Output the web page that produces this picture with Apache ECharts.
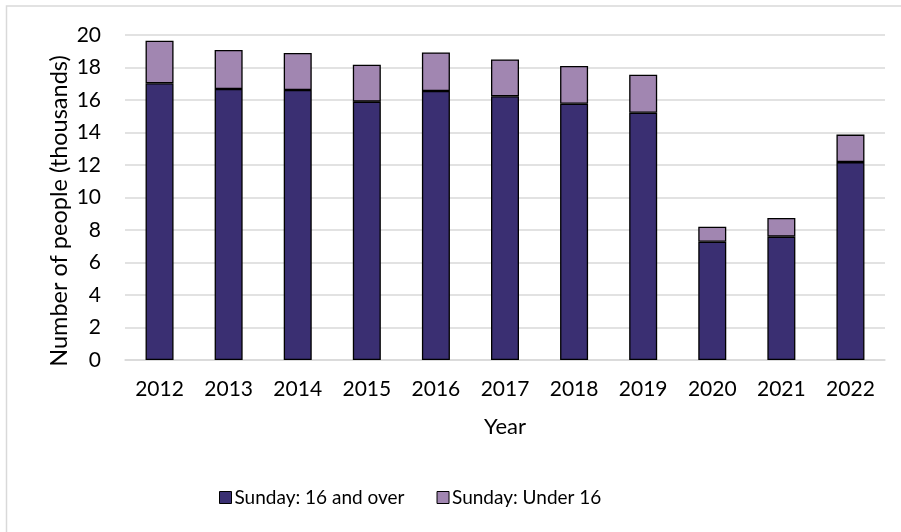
<!DOCTYPE html>
<html>
<head>
<meta charset="utf-8">
<script src="https://cdn.jsdelivr.net/npm/echarts@6/dist/echarts.min.js"></script>
<style>
  html, body { margin: 0; padding: 0; background: #fff; }
  #chart { width: 901px; height: 532px; }
</style>
</head>
<body>
<div id="chart"></div>
<script>
var years = ['2012', '2013', '2014', '2015', '2016', '2017', '2018', '2019', '2020', '2021', '2022'];
// thousands of people
var over16 = [17.03, 16.68, 16.62, 15.9, 16.55, 16.23, 15.77, 15.22, 7.28, 7.59, 12.18];
var under16 = [2.62, 2.4, 2.27, 2.27, 2.38, 2.27, 2.32, 2.34, 0.92, 1.15, 1.69];
var seriesNames = ['Sunday: 16 and over', 'Sunday: Under 16'];
var yTitle = 'Number of people (thousands)';

var font = 'Lato, "Open Sans", sans-serif';
var chart = echarts.init(document.getElementById('chart'));
chart.setOption({
  animation: false,
  textStyle: { fontFamily: font, color: '#000' },
  graphic: [{
    type: 'rect',
    shape: { x: 6.5, y: 6, width: 900, height: 540 },
    style: { fill: 'none', stroke: '#d9d9d9', lineWidth: 1.5 },
    silent: true
  }, {
    // y axis title, sits a bit below the plot centre like the original
    type: 'text',
    x: 59,
    y: 211,
    rotation: Math.PI / 2,
    style: {
      text: yTitle,
      fill: '#000',
      font: '23.5px ' + font,
      align: 'center',
      verticalAlign: 'middle'
    },
    silent: true
  }],
  grid: { left: 125, right: 16, top: 35, bottom: 172 },
  legend: {
    left: 219,
    top: 488,
    padding: 0,
    itemWidth: 12,
    itemHeight: 12,
    itemGap: 32,
    icon: 'rect',
    itemStyle: { borderColor: '#000', borderWidth: 1 },
    textStyle: { fontFamily: font, fontSize: 19, color: '#000', padding: [0, 0, 0, -2] },
    data: seriesNames
  },
  xAxis: {
    type: 'category',
    data: years,
    name: 'Year',
    nameLocation: 'middle',
    nameGap: 56,
    nameTextStyle: { fontFamily: font, fontSize: 22, color: '#000' },
    axisTick: { show: false },
    axisLine: { lineStyle: { color: '#d9d9d9', width: 1.5 } },
    axisLabel: { fontFamily: font, fontSize: 21, color: '#000', margin: 19 }
  },
  yAxis: {
    type: 'value',
    min: 0,
    max: 20,
    interval: 2,
    axisLabel: { fontFamily: font, fontSize: 21, color: '#000', margin: 24 },
    splitLine: { lineStyle: { color: '#d9d9d9', width: 1.5 } }
  },
  series: [{
    name: seriesNames[0],
    type: 'bar',
    stack: 'total',
    barWidth: 28,
    data: over16,
    itemStyle: { color: '#3a2f72', borderColor: '#000', borderWidth: 1.3 }
  }, {
    name: seriesNames[1],
    type: 'bar',
    stack: 'total',
    barWidth: 28,
    data: under16,
    itemStyle: { color: '#a186b1', borderColor: '#000', borderWidth: 1.3 }
  }]
});
</script>
</body>
</html>
